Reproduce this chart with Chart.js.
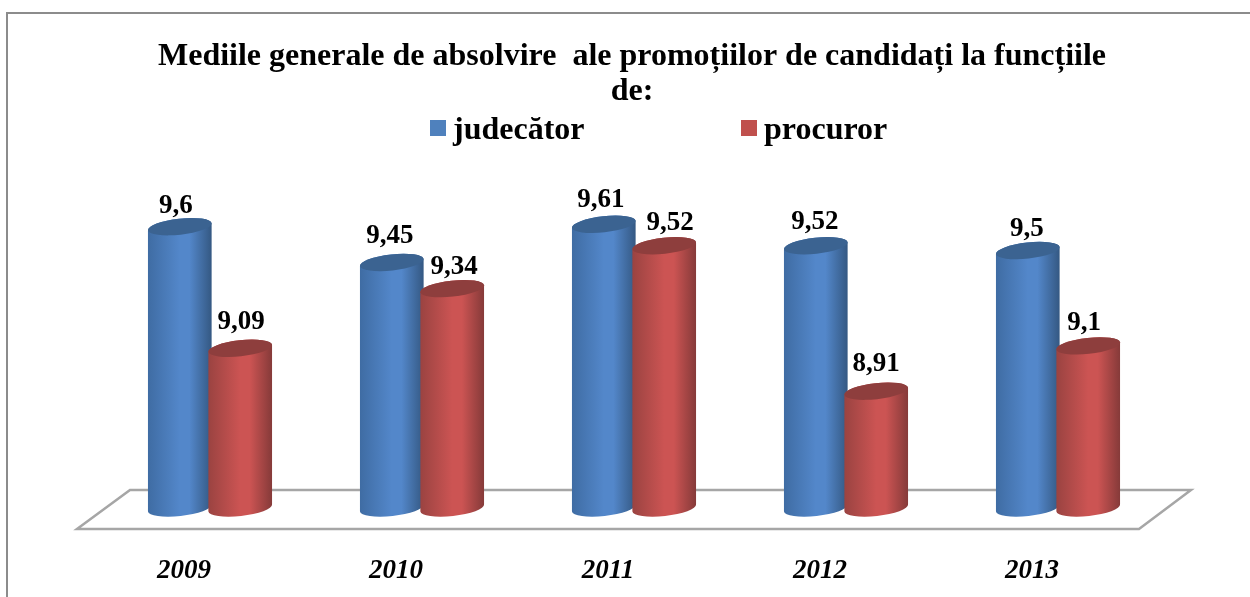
<!DOCTYPE html>
<html>
<head>
<meta charset="utf-8">
<style>
  html, body { margin: 0; padding: 0; background: #fff; overflow: hidden; }
  #wrap { width: 1250px; height: 597px; }
</style>
<script src="https://cdn.jsdelivr.net/npm/chart.js@4/dist/chart.umd.js"></script>
</head>
<body>
<div id="wrap"><canvas id="mainChart" width="1250" height="597"></canvas></div>
<script>
// Chart data
const years = ["2009", "2010", "2011", "2012", "2013"];
const judecator = [9.6, 9.45, 9.61, 9.52, 9.5];
const procuror = [9.09, 9.34, 9.52, 8.91, 9.1];
const titleLines = ["Mediile generale de absolvire  ale promoțiilor de candidați la funcțiile", "de:"];

const serif = "'Liberation Serif', 'Times New Roman', serif";

// colours of each cylinder, left to right, plus the lid
const shades = [
    { left: "#3f6ca3", mid: "#5387ca", right: "#345882", lid: "#3b6391" },
    { left: "#9a4341", mid: "#cc5453", right: "#853a39", lid: "#8e3e3d" }
];
const legendX = [430, 741];
const tilt = -0.11;
const lidHeight = 8;

// the value labels don't sit evenly in the original, nudge each one
const labelDx = [[-4, -2, -3, -1, -1], [1, 2, 6, 0, -4]];
const labelDy = [[-21, -26, -24, -24, -21], [-26, -22, -23, -27, -23]];

// Outer frame and the floor under the bars
const backdrop = {
    id: "backdrop",
    beforeDatasetsDraw(chart) {
        const { ctx, chartArea, scales } = chart;
        const base = scales.y.bottom;
        ctx.save();
        ctx.strokeStyle = "#8c8c8c";
        ctx.lineWidth = 2;
        ctx.beginPath();
        ctx.moveTo(7, 597);
        ctx.lineTo(7, 13);
        ctx.lineTo(1250, 13);
        ctx.stroke();
        ctx.strokeStyle = "#a6a6a6";
        ctx.lineWidth = 2.5;
        ctx.beginPath();
        ctx.moveTo(chartArea.left + 26, base - 18);
        ctx.lineTo(chartArea.right + 27, base - 18);
        ctx.lineTo(chartArea.right - 25, base + 21);
        ctx.lineTo(chartArea.left - 27, base + 21);
        ctx.closePath();
        ctx.stroke();
        ctx.restore();
    }
};

// Cylinders instead of flat bars, built on the library's bar elements
const cylinders = {
    id: "cylinders",
    // red has to land on top of blue, so draw them here in dataset order
    beforeDatasetsDraw(chart) {
        const { ctx } = chart;
        const base = chart.scales.y.bottom;
        chart.data.datasets.forEach((ds, i) => {
            const shade = shades[i];
            chart.getDatasetMeta(i).data.forEach(bar => {
                const rx = bar.width / 2;
                const grad = ctx.createLinearGradient(bar.x - rx, 0, bar.x + rx, 0);
                grad.addColorStop(0, shade.left);
                grad.addColorStop(0.5, shade.mid);
                grad.addColorStop(0.65, shade.mid);
                grad.addColorStop(1, shade.right);
                ctx.save();
                ctx.fillStyle = grad;
                ctx.beginPath();
                ctx.ellipse(bar.x, base, rx, lidHeight, tilt, 0, Math.PI);
                ctx.ellipse(bar.x, bar.y, rx, lidHeight, tilt, Math.PI, Math.PI * 2);
                ctx.closePath();
                ctx.fill();
                ctx.fillStyle = shade.lid;
                ctx.beginPath();
                ctx.ellipse(bar.x, bar.y, rx, lidHeight, tilt, 0, Math.PI * 2);
                ctx.fill();
                ctx.restore();
            });
        });
    },
    beforeDatasetDraw() {
        return false;
    },
    afterDatasetsDraw(chart) {
        const { ctx } = chart;
        ctx.save();
        ctx.fillStyle = "#000";
        ctx.textBaseline = "middle";
        // title, centred a little left of the plot
        ctx.font = "bold 32px " + serif;
        ctx.textAlign = "center";
        titleLines.forEach((line, i) => ctx.fillText(line, 632, 57 + i * 35));
        // value labels
        ctx.font = "bold 27px " + serif;
        chart.data.datasets.forEach((ds, i) => {
            chart.getDatasetMeta(i).data.forEach((bar, j) => {
                ctx.fillText(String(ds.data[j]).replace(".", ","), bar.x + labelDx[i][j], bar.y + labelDy[i][j]);
            });
        });
        // legend
        ctx.font = "bold 32px " + serif;
        ctx.textAlign = "left";
        chart.data.datasets.forEach((ds, i) => {
            ctx.fillStyle = ds.backgroundColor;
            ctx.fillRect(legendX[i], 120, 16, 16);
            ctx.fillStyle = "#000";
            ctx.fillText(ds.label, legendX[i] + 23, 131);
        });
        ctx.restore();
    }
};

new Chart(document.getElementById("mainChart"), {
    type: "bar",
    data: {
        labels: years,
        datasets: [
            { label: "judecător", data: judecator, backgroundColor: "#4f81bd" },
            { label: "procuror", data: procuror, backgroundColor: "#c0504d" }
        ]
    },
    options: {
        responsive: false,
        animation: false,
        events: [],
        categoryPercentage: 0.57,
        barPercentage: 1.06,
        layout: { padding: { left: 104, right: 86, top: 179, bottom: 0 } },
        plugins: {
            legend: { display: false },
            tooltip: { enabled: false },
            title: { display: false }
        },
        scales: {
            x: {
                grid: { display: false },
                border: { display: false },
                afterFit(scale) { scale.height = 89; },
                ticks: {
                    color: "#000",
                    padding: 39,
                    labelOffset: -26,
                    maxRotation: 0,
                    font: { family: serif, size: 27, weight: "bold", style: "italic" }
                }
            },
            y: {
                display: false,
                min: 8.42,
                max: 9.8
            }
        }
    },
    plugins: [backdrop, cylinders]
});
</script>
</body>
</html>
